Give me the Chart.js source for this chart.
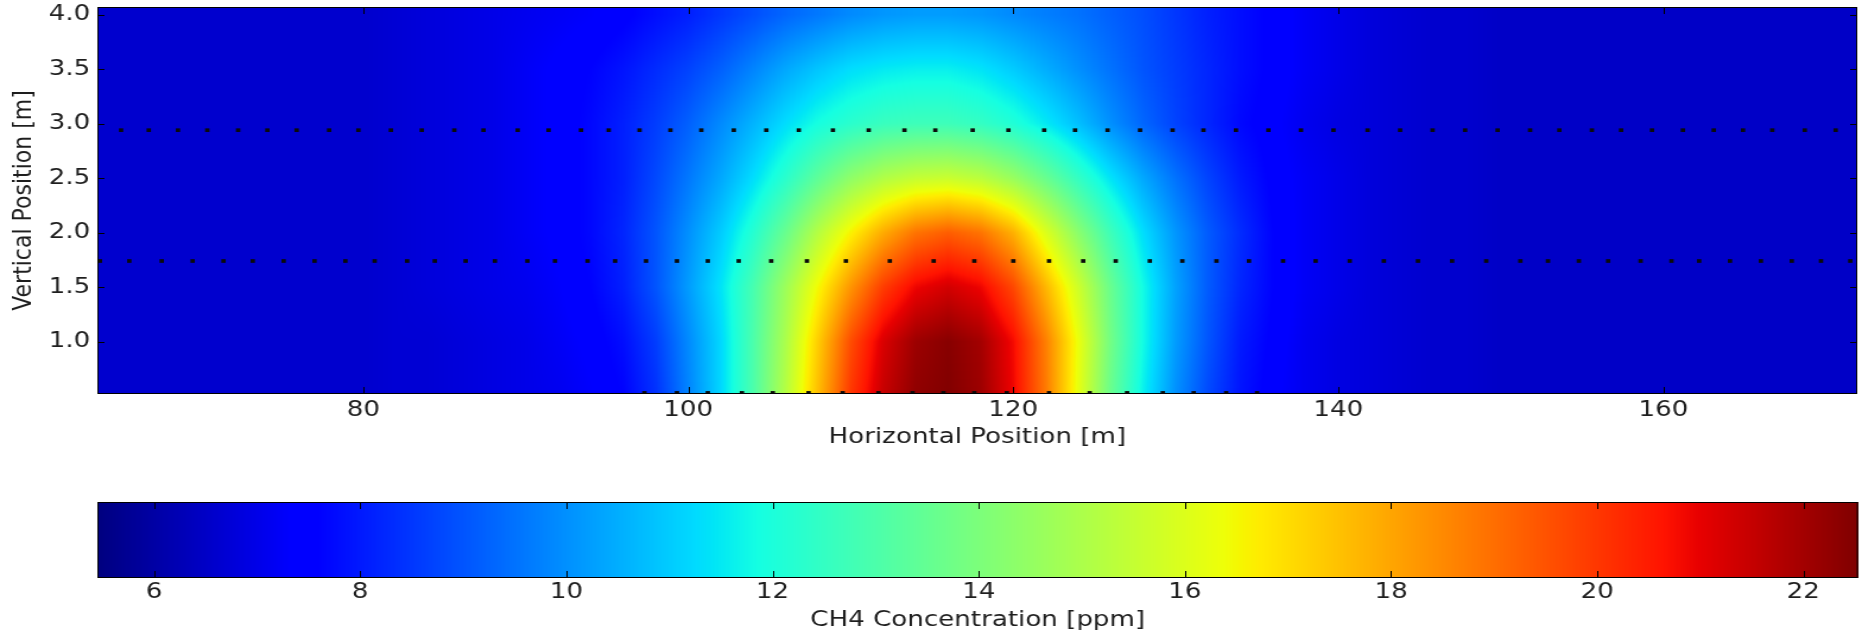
<!DOCTYPE html>
<html>
<head>
<meta charset="utf-8">
<script src="https://cdn.jsdelivr.net/npm/chart.js@4/dist/chart.umd.min.js"></script>
<style>
  html, body { margin: 0; padding: 0; background: #fff; overflow: hidden; }
  #wrap { position: relative; width: 1862px; height: 634px; }
  /* the source figure is stretched sideways, so the canvases are drawn narrow and widened */
  #main, #bar { position: absolute; left: 0; transform: scaleX(1.1875); transform-origin: 0 0; }
  #main { top: 0; }
  #bar { top: 460px; }
</style>
</head>
<body>
<div id="wrap">
  <canvas id="main" width="1568" height="460"></canvas>
  <canvas id="bar" width="1568" height="174"></canvas>
</div>
<script>
// axis ranges
let xMin = 63.64, xMax = 171.93;
let yMin = 0.52, yMax = 4.07;
let cbMin = 5.45, cbMax = 22.53;

let xTicks = [80, 100, 120, 140, 160];
let yTicks = [1.0, 1.5, 2.0, 2.5, 3.0, 3.5, 4.0];
let cbTicks = [6, 8, 10, 12, 14, 16, 18, 20, 22];

// grid of CH4 concentration (ppm)
let xCells = [64, 66, 68, 70, 72, 74, 76, 78, 80, 82, 84, 86, 88, 90, 92, 94, 96, 98,
  100, 102, 104, 106, 108, 110, 112, 114, 116, 118, 120, 122, 124, 126, 128, 130, 132, 134,
  136, 138, 140, 142, 144, 146, 148, 150, 152, 154, 156, 158, 160, 162, 164, 166, 168, 170, 172];
let yCells = [0.5, 1.0, 1.5, 2.0, 2.5, 3.0, 3.5, 4.0];

let conc05 = [6.6,6.6,6.6,6.6,6.6,6.6,6.6,6.6,6.6, 6.7,6.7,6.8,6.9,7.0,7.1,7.3,7.6,8.4,
  9.8,11.2,13.0,15.2,17.6,20.0,21.5,22.3,22.5, 22.1,20.9,18.8,16.2,13.6,11.6,10.0,8.8,7.9,
  7.4,7.1,6.9,6.8,6.7,6.6,6.6,6.5,6.5, 6.5,6.5,6.5,6.5,6.5,6.5,6.5,6.5,6.5,6.5];
let conc10 = [6.6,6.6,6.6,6.6,6.6,6.6,6.6,6.6,6.6, 6.7,6.7,6.8,6.9,7.0,7.2,7.4,7.8,8.6,
  9.9,11.2,13.0,15.0,17.3,19.6,21.2,22.1,22.4, 22.0,20.8,18.7,16.3,13.8,11.8,10.2,9.0,8.0,
  7.5,7.1,6.9,6.8,6.7,6.6,6.6,6.5,6.5, 6.5,6.5,6.5,6.5,6.5,6.5,6.5,6.5,6.5,6.5];
let conc15 = [6.6,6.6,6.6,6.6,6.6,6.6,6.6,6.6,6.6, 6.7,6.8,6.9,7.0,7.1,7.3,7.6,8.1,9.0,
  10.2,11.4,12.9,14.7,16.5,18.3,19.9,20.9,21.3, 20.9,19.7,17.7,15.7,13.6,11.8,10.3,9.1,8.2,
  7.6,7.2,7.0,6.8,6.7,6.6,6.6,6.5,6.5, 6.5,6.5,6.5,6.5,6.5,6.5,6.5,6.5,6.5,6.5];
let conc20 = [6.6,6.6,6.6,6.6,6.6,6.6,6.6,6.6,6.6, 6.7,6.8,6.9,7.0,7.2,7.4,7.7,8.2,9.0,
  10.0,11.0,12.2,13.6,15.2,16.6,17.9,18.9,19.3, 18.9,17.8,16.0,14.3,12.7,11.3,10.1,9.1,8.3,
  7.6,7.2,7.0,6.8,6.7,6.6,6.6,6.5,6.5, 6.5,6.5,6.5,6.5,6.5,6.5,6.5,6.5,6.5,6.5];
let conc25 = [6.6,6.6,6.6,6.6,6.6,6.6,6.6,6.6,6.6, 6.7,6.8,6.9,7.0,7.2,7.4,7.7,8.1,8.8,
  9.6,10.4,11.3,12.3,13.4,14.4,15.1,15.5,15.6, 15.3,14.6,13.6,12.5,11.4,10.4,9.5,8.7,8.0,
  7.5,7.2,7.0,6.8,6.7,6.6,6.6,6.5,6.5, 6.5,6.5,6.5,6.5,6.5,6.5,6.5,6.5,6.5,6.5];
let conc30 = [6.6,6.6,6.6,6.6,6.6,6.6,6.6,6.6,6.6, 6.7,6.8,6.9,7.0,7.2,7.4,7.7,8.1,8.6,
  9.2,9.9,10.6,11.3,11.9,12.3,12.6,12.7,12.7, 12.5,12.1,11.5,10.8,10.0,9.3,8.7,8.2,7.7,
  7.4,7.1,6.9,6.8,6.7,6.6,6.6,6.5,6.5, 6.5,6.5,6.5,6.5,6.5,6.5,6.5,6.5,6.5,6.5];
let conc35 = [6.6,6.6,6.6,6.6,6.6,6.6,6.6,6.6,6.6, 6.7,6.8,6.9,7.0,7.2,7.4,7.6,7.9,8.3,
  8.7,9.2,9.8,10.4,10.9,11.3,11.5,11.6,11.6, 11.4,11.0,10.5,10.0,9.5,9.0,8.6,8.2,7.8,
  7.5,7.2,7.0,6.8,6.7,6.6,6.6,6.5,6.5, 6.5,6.5,6.5,6.5,6.5,6.5,6.5,6.5,6.5,6.5];
let conc40 = [6.6,6.6,6.6,6.6,6.6,6.6,6.6,6.6,6.6, 6.7,6.8,6.9,7.0,7.1,7.2,7.3,7.5,7.8,
  8.1,8.5,8.9,9.3,9.6,9.9,10.1,10.2,10.2, 10.1,9.9,9.7,9.5,9.2,8.9,8.5,8.1,7.8,
  7.5,7.2,7.0,6.8,6.7,6.6,6.6,6.5,6.5, 6.5,6.5,6.5,6.5,6.5,6.5,6.5,6.5,6.5,6.5];
let concRows = [conc05, conc10, conc15, conc20, conc25, conc30, conc35, conc40];

// sensor positions (dotted rows)
let upperY = 2.94;
let upperX = [65.1, 66.8, 68.6, 70.4, 72.3, 74.1, 75.9, 77.9, 79.7, 81.7, 83.6, 85.6, 87.4, 89.5,
  91.4, 93.4, 95.1, 97.0, 98.9, 100.8, 102.8, 104.8, 106.8, 108.9, 111.1, 113.3, 115.2, 117.5,
  119.7, 121.9, 123.8, 125.8, 127.8, 129.8, 131.7, 133.7, 135.7, 137.7, 139.7, 141.8, 143.8,
  145.8, 147.8, 149.8, 151.8, 153.6, 155.6, 157.4, 159.3, 161.2, 163.1, 164.9, 166.7, 168.7, 170.6];
let lowerY = 1.74;
let lowerX = [63.8, 65.6, 67.6, 69.5, 71.4, 73.2, 75.1, 77.0, 78.9, 80.7, 82.7, 84.4, 86.3, 88.1,
  90.1, 91.8, 93.8, 95.5, 97.4, 99.3, 101.2, 103.1, 105.1, 107.3, 109.7, 112.4, 115.1, 117.6,
  120.0, 122.2, 124.3, 126.3, 128.4, 130.4, 132.5, 134.5, 136.6, 138.6, 140.7, 142.8, 144.9,
  147.0, 149.1, 151.2, 152.9, 154.8, 156.6, 158.6, 160.5, 162.2, 164.1, 166.0, 167.9, 169.7, 171.5];
let groundY = 0.53;
let groundX = [97.3, 99.3, 101.2, 103.3, 105.2, 107.4, 109.5, 111.7, 113.8, 115.7, 117.6, 119.6,
  122.2, 124.7, 127.0, 129.2, 131.1, 133.1, 135.0];

// matplotlib "jet"
const jetR = [[0, 0], [0.35, 0], [0.66, 1], [0.89, 1], [1, 0.5]];
const jetG = [[0, 0], [0.125, 0], [0.375, 1], [0.64, 1], [0.91, 0], [1, 0]];
const jetB = [[0, 0.5], [0.11, 1], [0.34, 1], [0.65, 0], [1, 0]];
function seg(pts, t) {
  for (let k = 1; k < pts.length; k++) {
    if (t <= pts[k][0]) {
      const [t0, v0] = pts[k - 1], [t1, v1] = pts[k];
      return v0 + (v1 - v0) * (t - t0) / (t1 - t0);
    }
  }
  return pts[pts.length - 1][1];
}
function jet(v) {
  const t = Math.min(1, Math.max(0, (v - cbMin) / (cbMax - cbMin)));
  return [seg(jetR, t), seg(jetG, t), seg(jetB, t)].map(c => Math.round(c * 255));
}
function gridPos(cells, v) {
  const n = cells.length - 1;
  if (v <= cells[0]) return 0;
  if (v >= cells[n]) return n;
  let k = 0;
  while (cells[k + 1] < v) k++;
  return k + (v - cells[k]) / (cells[k + 1] - cells[k]);
}

const textColor = '#1e1e1e';
const font = { family: "'DejaVu Sans', sans-serif", size: 22 };
const TICK_V = 7;   // tick length on horizontal edges
const TICK_H = 6;   // tick length on vertical edges (canvas is widened)

const heatmap = {
  id: 'heatmap',
  beforeDatasetsDraw(chart) {
    const { ctx, chartArea: a, scales: { x, y } } = chart;
    const w = Math.round(a.right - a.left), h = Math.round(a.bottom - a.top);
    const off = document.createElement('canvas');
    off.width = w; off.height = h;
    const octx = off.getContext('2d');
    const img = octx.createImageData(w, h);
    const fx = [], fy = [];
    for (let i = 0; i < w; i++) fx.push(gridPos(xCells, x.getValueForPixel(a.left + i + 0.5)));
    for (let j = 0; j < h; j++) fy.push(gridPos(yCells, y.getValueForPixel(a.top + j + 0.5)));
    const nx = xCells.length - 1, ny = yCells.length - 1;
    for (let j = 0; j < h; j++) {
      const j0 = Math.floor(fy[j]), j1 = Math.min(j0 + 1, ny), ty = fy[j] - j0;
      const r0 = concRows[j0], r1 = concRows[j1];
      for (let i = 0; i < w; i++) {
        const i0 = Math.floor(fx[i]), i1 = Math.min(i0 + 1, nx), tx = fx[i] - i0;
        const a0 = r0[i0] + (r0[i1] - r0[i0]) * tx;
        const a1 = r1[i0] + (r1[i1] - r1[i0]) * tx;
        const c = jet(a0 + (a1 - a0) * ty);
        const p = (j * w + i) * 4;
        img.data[p] = c[0]; img.data[p + 1] = c[1]; img.data[p + 2] = c[2]; img.data[p + 3] = 255;
      }
    }
    octx.putImageData(img, 0, 0);
    ctx.drawImage(off, a.left, a.top);
  }
};

const colorbar = {
  id: 'colorbar',
  beforeDatasetsDraw(chart) {
    const { ctx, chartArea: a, scales: { x } } = chart;
    for (let px = Math.floor(a.left); px < a.right; px++) {
      const c = jet(x.getValueForPixel(px + 0.5));
      ctx.fillStyle = 'rgb(' + c.join(',') + ')';
      ctx.fillRect(px, a.top, 1, a.bottom - a.top);
    }
  }
};

// black frame with inward ticks, matplotlib classic style
const frame = {
  id: 'frame',
  afterDatasetsDraw(chart) {
    const { ctx, chartArea: a, scales } = chart;
    ctx.save();
    ctx.strokeStyle = '#000';
    ctx.lineWidth = 1;
    ctx.strokeRect(a.left + 0.5, a.top + 0.5, a.right - a.left - 1, a.bottom - a.top - 1);
    ctx.beginPath();
    scales.x.ticks.forEach(t => {
      const px = Math.round(scales.x.getPixelForValue(t.value)) + 0.5;
      ctx.moveTo(px, a.bottom); ctx.lineTo(px, a.bottom - TICK_V);
      ctx.moveTo(px, a.top); ctx.lineTo(px, a.top + TICK_V);
    });
    if (scales.y.options.display) {
      scales.y.ticks.forEach(t => {
        const py = Math.round(scales.y.getPixelForValue(t.value)) + 0.5;
        ctx.moveTo(a.left, py); ctx.lineTo(a.left + TICK_H, py);
        ctx.moveTo(a.right, py); ctx.lineTo(a.right - TICK_H, py);
      });
    }
    ctx.stroke();
    ctx.restore();
  }
};

const dotStyle = {
  showLine: false,
  pointStyle: 'rect',
  pointRadius: 2.6,
  pointBackgroundColor: '#0a0a0a',
  pointBorderWidth: 0
};
const toPts = (xs, yv) => xs.map(v => ({ x: v, y: yv }));

new Chart(document.getElementById('main'), {
  type: 'scatter',
  data: {
    datasets: [
      Object.assign({ data: toPts(upperX, upperY) }, dotStyle),
      Object.assign({ data: toPts(lowerX, lowerY) }, dotStyle),
      Object.assign({ data: toPts(groundX, groundY) }, dotStyle)
    ]
  },
  options: {
    responsive: false,
    animation: false,
    events: [],
    layout: { padding: { top: 7, right: 3.4, left: 0, bottom: 0 } },
    plugins: { legend: { display: false }, tooltip: { enabled: false } },
    scales: {
      x: {
        type: 'linear', min: xMin, max: xMax,
        afterBuildTicks: s => { s.ticks = xTicks.map(v => ({ value: v })); },
        afterFit: s => { s.height = 66; s.paddingLeft = 0; s.paddingRight = 0; },
        grid: { display: false, drawTicks: false },
        border: { display: false },
        ticks: { autoSkip: false, maxRotation: 0, padding: 3, color: textColor, font: font },
        title: { display: true, text: 'Horizontal Position [m]', color: textColor, font: font,
          padding: { top: 0, bottom: 10 } }
      },
      y: {
        type: 'linear', min: yMin, max: yMax,
        afterBuildTicks: s => { s.ticks = yTicks.map(v => ({ value: v })); },
        afterFit: s => { s.width = 82; s.paddingTop = 0; s.paddingBottom = 0; },
        grid: { display: false, drawTicks: false },
        border: { display: false },
        ticks: { autoSkip: false, padding: 6, color: textColor, font: font,
          callback: v => Number(v).toFixed(1) },
        title: { display: true, text: 'Vertical Position [m]', color: textColor, font: font,
          padding: { top: 7, bottom: 0 } }
      }
    }
  },
  plugins: [heatmap, frame]
});

new Chart(document.getElementById('bar'), {
  type: 'scatter',
  data: { datasets: [] },
  options: {
    responsive: false,
    animation: false,
    events: [],
    layout: { padding: { top: 42, right: 3.4, left: 82, bottom: 0 } },
    plugins: { legend: { display: false }, tooltip: { enabled: false } },
    scales: {
      x: {
        type: 'linear', min: cbMin, max: cbMax,
        afterBuildTicks: s => { s.ticks = cbTicks.map(v => ({ value: v })); },
        afterFit: s => { s.height = 56; s.paddingLeft = 0; s.paddingRight = 0; },
        grid: { display: false, drawTicks: false },
        border: { display: false },
        ticks: { autoSkip: false, maxRotation: 0, padding: 1, color: textColor, font: font },
        title: { display: true, text: 'CH4 Concentration [ppm]', color: textColor, font: font,
          padding: { top: 0, bottom: 1 } }
      },
      y: { display: false, min: 0, max: 1 }
    }
  },
  plugins: [colorbar, frame]
});
</script>
</body>
</html>
